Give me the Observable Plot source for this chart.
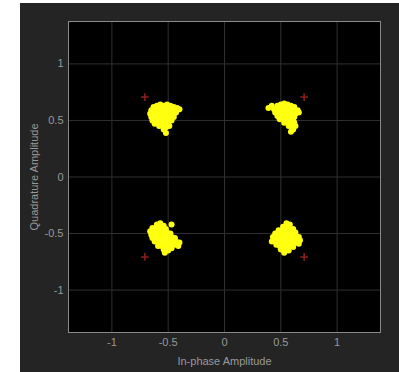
<!DOCTYPE html>
<html>
<head>
<meta charset="utf-8">
<script src="https://cdn.jsdelivr.net/npm/d3@7"></script>
<script src="https://cdn.jsdelivr.net/npm/@observablehq/plot@0.6"></script>
<style>
  html, body { margin: 0; padding: 0; background: #ffffff; }
  #panel { position: absolute; left: 20px; top: 3px; width: 379px; height: 369px; background: #242424; overflow: hidden; }
</style>
</head>
<body>
<div id="panel"></div>
<script>
// Received symbols (I, Q) for each quadrant
const clusterUL = [
  [-0.63,0.62],[-0.60,0.63],[-0.57,0.64],[-0.54,0.63],[-0.51,0.64],[-0.48,0.63],[-0.45,0.62],[-0.42,0.61],[-0.40,0.60],
  [-0.65,0.59],[-0.62,0.60],[-0.59,0.60],[-0.56,0.61],[-0.53,0.60],[-0.50,0.61],[-0.47,0.60],[-0.44,0.59],
  [-0.66,0.56],[-0.63,0.57],[-0.60,0.57],[-0.57,0.58],[-0.54,0.57],[-0.51,0.58],[-0.48,0.57],[-0.45,0.56],[-0.43,0.57],
  [-0.65,0.53],[-0.62,0.54],[-0.59,0.54],[-0.56,0.55],[-0.53,0.54],[-0.50,0.55],[-0.47,0.54],[-0.45,0.53],
  [-0.64,0.50],[-0.61,0.51],[-0.58,0.51],[-0.55,0.52],[-0.52,0.51],[-0.49,0.51],[-0.47,0.50],
  [-0.62,0.47],[-0.59,0.48],[-0.56,0.48],[-0.53,0.48],[-0.50,0.47],
  [-0.58,0.45],[-0.55,0.45],[-0.52,0.44],[-0.49,0.45],
  [-0.54,0.42],[-0.52,0.39]
];
const clusterUR = [
  [0.47,0.63],[0.50,0.64],[0.53,0.65],[0.56,0.64],[0.59,0.63],[0.62,0.62],
  [0.44,0.60],[0.47,0.61],[0.50,0.61],[0.53,0.62],[0.56,0.61],[0.59,0.60],[0.62,0.59],[0.65,0.59],
  [0.45,0.57],[0.48,0.58],[0.51,0.58],[0.54,0.58],[0.57,0.57],[0.60,0.57],[0.63,0.56],[0.66,0.57],
  [0.47,0.54],[0.50,0.55],[0.53,0.55],[0.56,0.54],[0.59,0.54],[0.62,0.53],
  [0.49,0.51],[0.52,0.52],[0.55,0.51],[0.58,0.51],[0.61,0.50],
  [0.53,0.48],[0.56,0.48],[0.59,0.47],[0.62,0.48],
  [0.57,0.45],[0.60,0.44],[0.63,0.45],
  [0.61,0.42],[0.39,0.61],[0.42,0.63],[0.59,0.40]
];
const clusterLL = [
  [-0.60,-0.42],[-0.57,-0.41],[-0.54,-0.43],
  [-0.64,-0.45],[-0.61,-0.45],[-0.58,-0.44],[-0.55,-0.45],[-0.52,-0.46],
  [-0.66,-0.48],[-0.63,-0.48],[-0.60,-0.47],[-0.57,-0.48],[-0.54,-0.48],[-0.51,-0.49],[-0.48,-0.50],
  [-0.65,-0.51],[-0.62,-0.51],[-0.59,-0.51],[-0.56,-0.51],[-0.53,-0.52],[-0.50,-0.52],[-0.47,-0.53],[-0.44,-0.54],
  [-0.64,-0.54],[-0.61,-0.54],[-0.58,-0.55],[-0.55,-0.55],[-0.52,-0.55],[-0.49,-0.56],[-0.46,-0.56],[-0.43,-0.57],[-0.40,-0.58],
  [-0.62,-0.57],[-0.59,-0.58],[-0.56,-0.58],[-0.53,-0.58],[-0.50,-0.59],[-0.47,-0.59],[-0.44,-0.60],[-0.41,-0.61],
  [-0.59,-0.61],[-0.56,-0.61],[-0.53,-0.62],[-0.50,-0.62],[-0.47,-0.63],
  [-0.54,-0.64],[-0.50,-0.65],[-0.53,-0.67],[-0.47,-0.42]
];
const clusterLR = [
  [0.55,-0.41],[0.58,-0.42],
  [0.52,-0.44],[0.55,-0.44],[0.58,-0.45],[0.61,-0.46],
  [0.48,-0.47],[0.51,-0.47],[0.54,-0.47],[0.57,-0.48],[0.60,-0.48],[0.63,-0.49],
  [0.45,-0.50],[0.48,-0.50],[0.51,-0.51],[0.54,-0.50],[0.57,-0.51],[0.60,-0.51],[0.63,-0.52],[0.66,-0.53],
  [0.43,-0.53],[0.46,-0.54],[0.49,-0.54],[0.52,-0.54],[0.55,-0.54],[0.58,-0.54],[0.61,-0.55],[0.64,-0.55],[0.67,-0.56],
  [0.42,-0.57],[0.45,-0.57],[0.48,-0.57],[0.51,-0.58],[0.54,-0.57],[0.57,-0.58],[0.60,-0.58],[0.63,-0.58],[0.66,-0.59],
  [0.46,-0.60],[0.49,-0.61],[0.52,-0.61],[0.55,-0.61],[0.58,-0.61],[0.61,-0.62],
  [0.50,-0.64],[0.54,-0.64],[0.57,-0.65],[0.53,-0.67]
];
// Reference constellation (ideal QPSK)
const refI = [0.707, -0.707, -0.707, 0.707];
const refQ = [0.707, 0.707, -0.707, -0.707];
// Ticks
const tickValues = [-1, -0.5, 0, 0.5, 1];
const tickLabels = ["-1", "-0.5", "0", "0.5", "1"];

const received = [...clusterUL, ...clusterUR, ...clusterLL, ...clusterLR].map(([i, q]) => ({i, q}));
const reference = refI.map((v, k) => ({i: v, q: refQ[k]}));
const fmt = d => tickLabels[tickValues.indexOf(d)];

const chart = Plot.plot({
  width: 379,
  height: 369,
  marginLeft: 48,
  marginRight: 19,
  marginTop: 18,
  marginBottom: 40,
  style: { background: "transparent", fontFamily: "Liberation Sans, Arial, sans-serif", color: "#9a9a9a" },
  x: { domain: [-1.385, 1.385] },
  y: { domain: [-1.375, 1.375] },
  marks: [
    Plot.frame({ fill: "black" }),
    Plot.gridX(tickValues, { stroke: "#303030", strokeOpacity: 1 }),
    Plot.gridY(tickValues, { stroke: "#303030", strokeOpacity: 1 }),
    Plot.axisX({ ticks: tickValues, tickFormat: fmt, tickSize: 0, tickPadding: 6, fontSize: 11, fill: "#999999",
      label: "In-phase Amplitude", labelAnchor: "center", labelArrow: "none", labelOffset: 32 }),
    Plot.axisY({ ticks: tickValues, tickFormat: fmt, tickSize: 0, tickPadding: 5, fontSize: 11, fill: "#999999",
      label: "Quadrature Amplitude", labelAnchor: "center", labelArrow: "none", labelOffset: 38 }),
    Plot.dot(reference, { x: "i", y: "q", symbol: "plus", r: 2.6, stroke: "#8c1c1c", strokeWidth: 1.6 }),
    Plot.dot(received, { x: "i", y: "q", r: 3, fill: "#ffff10", stroke: "none" }),
    Plot.frame({ stroke: "#8a8a8a", strokeWidth: 1 })
  ]
});
document.getElementById("panel").appendChild(chart);
</script>
</body>
</html>
